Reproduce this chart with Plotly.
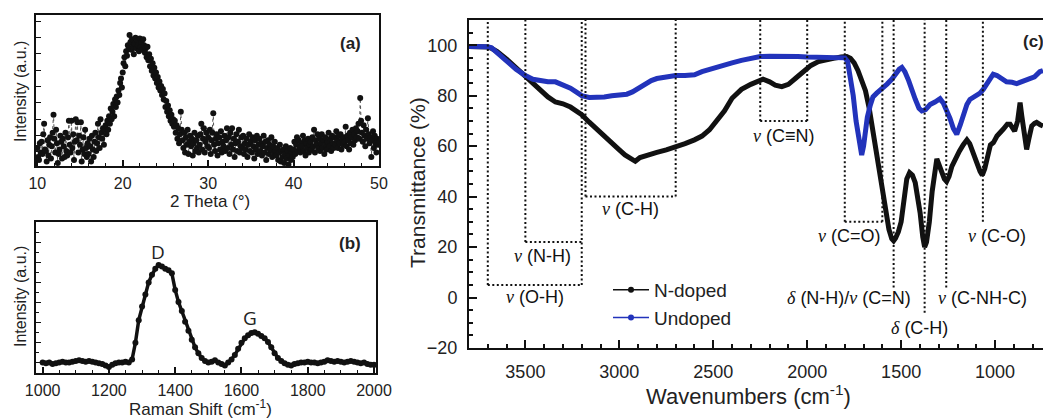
import plotly.graph_objects as go

W, H = 1043, 418

# ---------------- Panel (a): XRD ----------------
xrd_theta = [round(10 + 0.1 * i, 1) for i in range(401)]
xrd_int = [
    12, 6, 4, 15, 9, 16, 8, 21, 28, 11,
    10, 3, 17, 7, 14, 19, 5, 13, 22, 34,
    18, 9, 24, 15, 2, 8, 11, 20, 16, 5,
    18, 13, 6, 22, 10, 7, 19, 30, 14, 9,
    30, 12, 21, 4, 16, 31, 17, 29, 9, 20,
    14, 29, 3, 11, 19, 8, 24, 12, 6, 15,
    8, 18, 13, 3, 20, 11, 6, 16, 22, 10,
    15, 28, 19, 12, 31, 22, 18, 25, 14, 24,
    27, 21, 30, 24, 33, 28, 38, 31, 36, 41,
    33, 44, 39, 46, 42, 50, 47, 55, 58, 52,
    62, 68, 72, 66, 76, 73, 80, 78, 86.7, 82,
    77, 84, 79, 74, 81, 85, 78, 83, 80, 76,
    84.5, 79, 82, 77, 84, 80, 75, 78, 72, 79,
    70, 74, 66, 71, 63, 68, 60, 65, 58, 62,
    55, 59, 52, 56, 50, 53, 47, 51, 44, 48,
    39, 43, 36, 40, 33, 37, 30, 34, 28, 31,
    26, 30, 22, 27, 18, 25, 15, 21, 36, 24,
    17, 12, 22, 9, 19, 14, 24, 8, 16, 20,
    13, 18, 7, 15, 22, 10, 17, 12, 20, 9,
    14, 21, 28, 11, 18, 25, 9, 16, 22, 13,
    19, 12, 24, 8, 17, 22, 35, 14, 10, 18,
    21, 7, 15, 19, 11, 23, 9, 16, 13, 20,
    10, 17, 25, 12, 19, 8, 22, 14, 25, 11,
    18, 6, 15, 21, 10, 16, 24, 9, 13, 19,
    12, 20, 8, 15, 11, 18, 6, 14, 21, 10,
    16, 9, 19, 13, 5, 17, 11, 20, 8, 14,
    18, 10, 15, 7, 13, 20, 9, 16, 4, 12,
    17, 8, 14, 11, 19, 6, 13, 9, 16, 10,
    7, 12, 4, 9, 14, 3, 10, 6, 11, 2,
    8, 13, 5, 10, 1, 7, 12, 4, 9, 6,
    11, 16, 8, 14, 19, 10, 17, 12, 9, 15,
    13, 20, 10, 17, 7, 15, 12, 18, 9, 14,
    16, 11, 19, 13, 24, 9, 17, 14, 21, 12,
    18, 10, 15, 21, 12, 17, 8, 19, 14, 11,
    16, 22, 13, 18, 10, 20, 15, 12, 19, 14,
    23, 17, 12, 20, 15, 21, 11, 18, 14, 19,
    16, 26, 13, 20, 17, 11, 22, 15, 19, 24,
    14, 21, 17, 25, 19, 23, 28, 18, 45, 30,
    22, 16, 27, 20, 13, 24, 18, 31.6, 21, 15,
    19, 6, 17, 23, 12, 20, 15, 9, 18, 14,
    16,
]

# ---------------- Panel (b): Raman ----------------
raman_shift = [1000 + 10 * i for i in range(101)]
raman_int = [
    7, 6.5, 7, 6, 6.5, 7, 7.5, 7, 7, 7.5,
    8, 8.5, 8, 7.5, 8, 7.5, 7, 6.5, 6, 5,
    4, 5.5, 6.5, 7, 7, 7.5, 7, 9, 20, 35,
    44, 52, 60, 65, 69, 71.5, 70.5, 69, 68, 66,
    55, 47, 41, 34, 28, 22, 17, 13, 10, 8,
    7, 7.5, 8.5, 7, 6, 5, 7, 9, 12, 16,
    20, 23, 25, 26.5, 27, 26, 24.5, 23, 20.5, 17,
    13, 10, 8, 6.5, 5.5, 5, 6, 6.5, 7, 7,
    7.5, 7, 7, 6.5, 7, 7.5, 8.5, 8, 7.5, 8,
    7.5, 7, 7.5, 8, 7.5, 7, 6.5, 7, 6, 5.5,
    5.5,
]

# ---------------- Panel (c): FTIR ----------------
ndoped_wn = [3800, 3750, 3700, 3680, 3650, 3600, 3550, 3500, 3460, 3420, 3380, 3340, 3300, 3260, 3230,
             3200, 3160, 3120, 3080, 3040, 3000, 2970, 2940, 2915, 2890, 2860, 2830, 2800, 2750, 2700,
             2650, 2600, 2560, 2520, 2480, 2440, 2400, 2350, 2300, 2260, 2235, 2200, 2170, 2135, 2100,
             2060, 2020, 1980, 1940, 1900, 1860, 1820, 1790, 1770, 1750, 1730, 1710, 1690, 1670, 1650,
             1630, 1610, 1594, 1580, 1565, 1550, 1540, 1530, 1515, 1500, 1485, 1470, 1455, 1440, 1425,
             1410, 1399, 1385, 1375, 1365, 1350, 1335, 1320, 1310, 1300, 1285, 1270, 1258, 1245, 1230,
             1210, 1190, 1170, 1150, 1135, 1115, 1095, 1080, 1068, 1055, 1040, 1025, 1009, 990, 957,
             935, 920, 905, 896, 880, 867, 858, 850, 843, 832, 820, 805, 790, 779, 760, 745]
ndoped_t = [99.5, 99.5, 99.3, 98.8, 97.5, 94.5, 91, 88, 85, 82, 79.5, 77.5, 76.8, 75.5, 74,
            72.5, 69.5, 66.7, 63.5, 61, 58.5, 56.5, 55, 54, 55.5, 56, 56.5, 57.5, 58.5, 59.5,
            61, 62.5, 64, 66.5, 70, 74, 79, 82.5, 84.5, 86, 86.5, 85.5, 84.2, 83.6, 84.5,
            87, 89.5, 92, 93.5, 94.3, 94.8, 95.3, 95.5, 94.8, 93, 90, 86.5, 82, 75, 66,
            57, 49, 41.5, 34, 27, 23.3, 22.5, 23.5, 26, 30, 40, 47, 49.5, 48.5, 45.5,
            40, 33.6, 24, 20, 22, 30, 42, 52, 55, 53, 49.5, 47, 46, 48, 52,
            55.5, 58, 60.5, 62.5, 61, 57.5, 53, 50, 48.5, 51, 57, 60.5, 61.4, 64, 66.7,
            68.7, 68.7, 67, 66, 70, 77.3, 72, 68, 62, 58.7, 63, 68, 69, 69.4, 68.5, 68]

undoped_wn = [3800, 3750, 3700, 3680, 3650, 3600, 3550, 3500, 3460, 3420, 3380, 3340, 3300, 3260, 3230,
              3200, 3160, 3120, 3080, 3040, 3000, 2960, 2930, 2900, 2870, 2830, 2800, 2750, 2700, 2650,
              2600, 2560, 2520, 2480, 2440, 2400, 2350, 2300, 2250, 2200, 2150, 2100, 2050, 2000, 1950,
              1900, 1850, 1800, 1785, 1770, 1755, 1740, 1725, 1710, 1700, 1690, 1680, 1665, 1650, 1630,
              1612, 1590, 1575, 1550, 1532, 1510, 1496, 1480, 1460, 1440, 1425, 1405, 1390, 1370, 1346,
              1320, 1293, 1275, 1258, 1240, 1222, 1204, 1185, 1169, 1150, 1134, 1115, 1098, 1080, 1063,
              1040, 1010, 990, 960, 939, 910, 885, 868, 840, 815, 790, 762, 745]
undoped_t = [99.5, 99.5, 99.4, 99, 97, 93.5, 90.5, 88, 86.5, 86, 85.5, 85.5, 84.5, 83, 81.5,
             80, 79.3, 79.3, 79.5, 80, 80.5, 80.6, 81.5, 83, 84.5, 86, 86.8, 87.5, 88, 88,
             88.3, 89.5, 90.5, 91.5, 92.5, 93, 94, 95, 95.5, 95.6, 95.7, 95.5, 95.5, 95.3, 95.2,
             95, 95, 95, 93.5, 87, 80, 70, 62, 56.5, 60, 66, 71.5, 76, 79.5, 81,
             82, 83.5, 84.6, 86.5, 88.5, 90.5, 91.2, 89.5, 86, 81, 78.6, 75, 74, 74.5, 76.5,
             77.5, 78.8, 77, 74.5, 71, 67, 64.7, 68.5, 73, 76.5, 78.5, 79.5, 80, 81, 82.5,
             85.5, 88.5, 88, 86.5, 85.5, 85.3, 84.8, 85.3, 86, 86.5, 87.5, 89.5, 90]

# band-assignment guide boxes (wavenumber, transmittance)
guide_vlines = [(3700, 5), (3200, 5), (3500, 22), (3180, 40), (2700, 40), (2250, 70), (2000, 70),
                (1800, 30), (1600, 30), (1540, 4), (1375, -6), (1260, 4), (1065, 30)]
guide_hlines = [(3700, 3200, 5), (3500, 3200, 22), (3180, 2700, 40), (2250, 2000, 70), (1800, 1600, 30)]
NU = "<span style='font-family:Liberation Serif'><i>ν</i></span>"
DE = "<span style='font-family:Liberation Serif'><i>δ</i></span>"
band_labels = [
    (NU + " (O-H)", 3447, 0.3),
    (NU + " (N-H)", 3410, 16.3),
    (NU + " (C-H)", 2938, 34.9),
    (NU + " (C≡N)", 2122, 64),
    (NU + " (C=O)", 1777, 24.3),
    (DE + " (N-H)/" + NU + " (C=N)", 1777, -0.1),
    (DE + " (C-H)", 1404, -12.2),
    (NU + " (C-NH-C)", 1068, 0),
    (NU + " (C-O)", 988, 24.3),
]

BLACK = "#111111"
BLUE = "#2233bb"
FONT = "Liberation Sans, Arial, sans-serif"


def px(x):
    return x / W


def py(y):
    return 1 - y / H


fig = go.Figure()

# (a)
fig.add_trace(go.Scatter(x=xrd_theta, y=xrd_int, mode="lines+markers", xaxis="x", yaxis="y",
                         line=dict(color="#555555", width=1, dash="dot"),
                         marker=dict(color=BLACK, size=6), showlegend=False))
# (b)
fig.add_trace(go.Scatter(x=raman_shift, y=raman_int, mode="lines+markers", xaxis="x2", yaxis="y2",
                         line=dict(color=BLACK, width=3.5),
                         marker=dict(color=BLACK, size=6), showlegend=False))
# (c)
fig.add_trace(go.Scatter(x=ndoped_wn, y=ndoped_t, mode="lines", xaxis="x3", yaxis="y3",
                         line=dict(color=BLACK, width=5), showlegend=False))
fig.add_trace(go.Scatter(x=undoped_wn, y=undoped_t, mode="lines", xaxis="x3", yaxis="y3",
                         line=dict(color=BLUE, width=5), showlegend=False))
# legend entries
fig.add_trace(go.Scatter(x=[None], y=[None], mode="lines+markers", name="N-doped", xaxis="x3", yaxis="y3",
                         line=dict(color=BLACK, width=1.5), marker=dict(color=BLACK, size=6)))
fig.add_trace(go.Scatter(x=[None], y=[None], mode="lines+markers", name="Undoped", xaxis="x3", yaxis="y3",
                         line=dict(color=BLUE, width=1.5), marker=dict(color=BLUE, size=6)))

shapes = []
for x, yb in guide_vlines:
    shapes.append(dict(type="line", xref="x3", yref="y3", x0=x, x1=x, y0=yb, y1=110,
                       line=dict(color=BLACK, width=2, dash="2px,2.5px")))
for x0, x1, y in guide_hlines:
    shapes.append(dict(type="line", xref="x3", yref="y3", x0=x0, x1=x1, y0=y, y1=y,
                       line=dict(color=BLACK, width=2, dash="2px,2.5px")))

ann = []
for txt, x, y in band_labels:
    ann.append(dict(text=txt, x=x, y=y, xref="x3", yref="y3", showarrow=False,
                    font=dict(size=18, color=BLACK, family=FONT)))


def pann(text, x, y, size, angle=0, family=FONT, xanchor="center"):
    ann.append(dict(text=text, x=px(x), y=py(y), xref="paper", yref="paper", showarrow=False,
                    textangle=angle, xanchor=xanchor, yanchor="middle",
                    font=dict(size=size, color="#222222", family=family)))


pann("Intensity (a.u.)", 20, 92, 16, -90)
pann("2 Theta (°)", 210, 201, 17)
pann("Intensity (a.u.)", 20, 297, 16, -90)
pann("Raman Shift (cm<sup>-1</sup>)", 200, 408, 17)
pann("Transmittance (%)", 417, 183, 21, -90)
pann("Wavenumbers (cm<sup>-1</sup>)", 748, 395, 22)
pann("<b>(a)</b>", 350, 43, 17)
pann("<b>(b)</b>", 350, 243, 17)
pann("<b>(c)</b>", 1021, 42, 17, xanchor="left")
pann("D", 158, 252, 19, family="Open Sans, DejaVu Sans")
pann("G", 250, 318, 19, family="Open Sans, DejaVu Sans")

common = dict(showgrid=False, zeroline=False, showline=True, linecolor=BLACK, ticks="inside",
              tickcolor=BLACK, automargin=False)

fig.update_layout(
    template="none",
    width=W, height=H, margin=dict(l=0, r=0, t=0, b=0, pad=0, autoexpand=False), autosize=False,
    paper_bgcolor="white", plot_bgcolor="white",
    font=dict(family=FONT, color="#222222"),
    shapes=shapes, annotations=ann,
    legend=dict(x=px(608), y=py(271), xanchor="left", yanchor="top", bgcolor="rgba(0,0,0,0)",
                font=dict(size=19, color="#222222", family=FONT), itemwidth=36, borderwidth=0),
    xaxis=dict(domain=[px(36), px(379)], anchor="y", range=[9.85, 50], tick0=10, dtick=10,
               ticklen=6, tickwidth=1.5, linewidth=1.5, mirror=True, tickfont=dict(size=16),
               ticklabelstandoff=2,
               minor=dict(dtick=2, ticklen=3, tickwidth=1, ticks="inside", tickcolor=BLACK), **common),
    yaxis=dict(domain=[py(166), py(15)], anchor="x", range=[0, 100], tick0=9.5, dtick=10.8,
               showticklabels=False, ticklen=5, tickwidth=1.2, linewidth=1.5, mirror=True, **common),
    xaxis2=dict(domain=[px(36), px(376)], anchor="y2", range=[980, 2006], tick0=1000, dtick=200,
                ticklen=6, tickwidth=1.5, linewidth=1.5, mirror=True, tickfont=dict(size=16),
                ticklabelstandoff=2,
                minor=dict(dtick=50, ticklen=3, tickwidth=1, ticks="inside", tickcolor=BLACK), **common),
    yaxis2=dict(domain=[py(373), py(222)], anchor="x2", range=[0, 100], tick0=6.8, dtick=13.3,
                showticklabels=False, ticklen=5, tickwidth=1.2, linewidth=1.5, mirror=True,
                minor=dict(dtick=6.65, ticklen=3, ticks="inside", tickcolor=BLACK), **common),
    xaxis3=dict(domain=[px(469), 1.0], anchor="y3", range=[3800, 745], tick0=1000, dtick=500,
                ticklen=8, tickwidth=2, linewidth=2, mirror=True, tickfont=dict(size=18),
                ticklabelstandoff=6,
                minor=dict(dtick=100, ticklen=4, tickwidth=1.5, ticks="inside", tickcolor=BLACK), **common),
    yaxis3=dict(domain=[py(348), py(20)], anchor="x3", range=[-20, 110], tick0=0, dtick=20,
                ticklen=8, tickwidth=2, linewidth=2, mirror=False, tickfont=dict(size=18),
                ticklabelstandoff=6,
                minor=dict(dtick=5, ticklen=4, tickwidth=1.5, ticks="inside", tickcolor=BLACK), **common),
)

fig.write_html("out.html", config={"responsive": False},
               post_script="document.documentElement.style.margin='0';document.body.style.margin='0';"
                           "document.body.style.overflow='hidden';")
